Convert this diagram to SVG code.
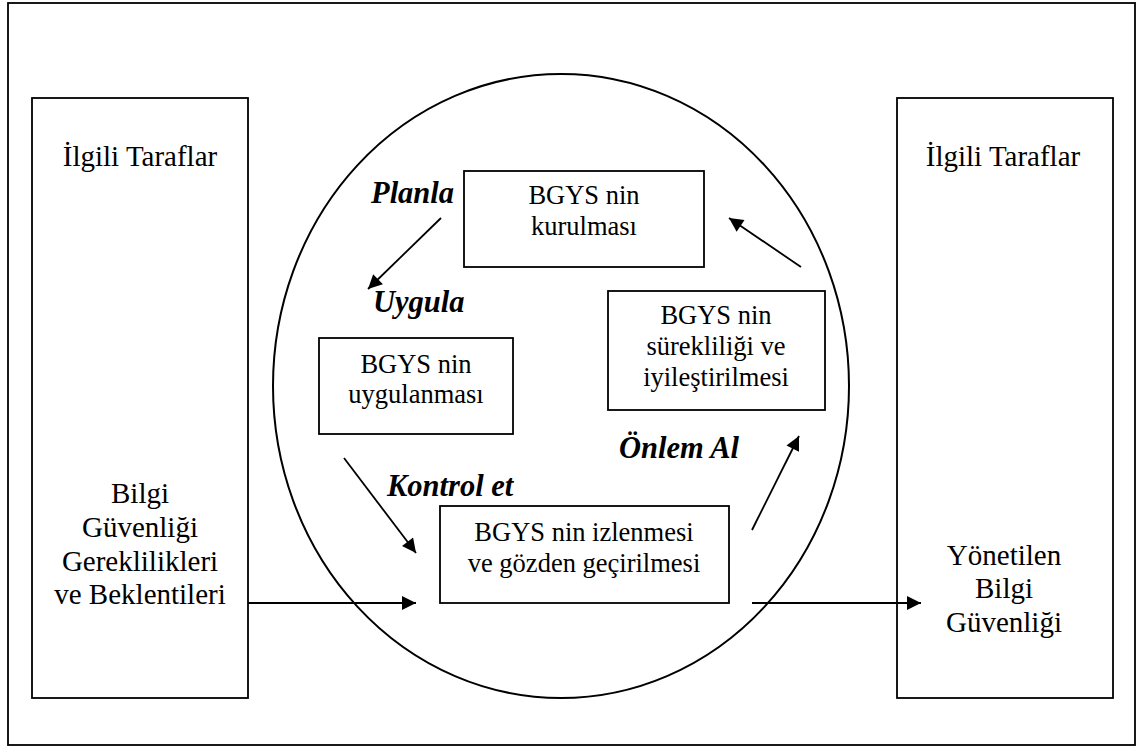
<svg xmlns="http://www.w3.org/2000/svg" width="1137" height="747" viewBox="0 0 1137 747">
  <style>
    .box { fill: #fff; stroke: #000; stroke-width: 1.8; }
    .ring { fill: none; stroke: #000; stroke-width: 2; }
    .txt { font-size: 26.5px; text-anchor: middle; fill: #000; }
    .big { font-size: 29px; }
    .phase { font-size: 30.5px; font-weight: bold; font-style: italic; fill: #000; }
    .conn { stroke: #000; stroke-width: 1.8; fill: none; marker-end: url(#head); }
  </style>
  <defs>
    <marker id="head" viewBox="0 0 10 10" refX="10" refY="5" markerUnits="userSpaceOnUse" markerWidth="16" markerHeight="14" orient="auto">
      <path d="M0,0 L10,5 L0,10 Z" fill="#000"/>
    </marker>
  </defs>

  <rect x="0" y="0" width="1137" height="747" fill="#fff"/>

  <!-- outer frame -->
  <rect id="frame" x="8" y="3" width="1127" height="742" class="box" fill="none"/>

  <g font-family="Liberation Serif">
  <!-- stakeholders: inputs -->
  <g id="left-parties">
    <rect x="32" y="98" width="216" height="600" class="box"/>
    <text class="txt big" x="140" y="166">İlgili Taraflar</text>
    <text class="txt big" x="140" y="503">Bilgi</text>
    <text class="txt big" x="140" y="537">Güvenliği</text>
    <text class="txt big" x="140" y="571">Gereklilikleri</text>
    <text class="txt big" x="140" y="604">ve Beklentileri</text>
  </g>

  <!-- stakeholders: outputs -->
  <g id="right-parties">
    <rect x="897" y="98" width="216" height="600" class="box"/>
    <text class="txt big" x="1003" y="166">İlgili Taraflar</text>
    <text class="txt big" x="1004" y="565">Yönetilen</text>
    <text class="txt big" x="1004" y="598">Bilgi</text>
    <text class="txt big" x="1004" y="632">Güvenliği</text>
  </g>

  <!-- PDCA cycle -->
  <g id="cycle">
    <ellipse cx="561" cy="386" rx="288" ry="312" class="ring"/>
  </g>

  <g id="plan">
    <rect x="464" y="171" width="240" height="96" class="box"/>
    <text class="txt" x="584" y="204">BGYS nin</text>
    <text class="txt" x="584" y="235">kurulması</text>
  </g>

  <g id="do">
    <rect x="319" y="338" width="194" height="96" class="box"/>
    <text class="txt" x="416" y="373">BGYS nin</text>
    <text class="txt" x="416" y="403">uygulanması</text>
  </g>

  <g id="act">
    <rect x="608" y="291" width="217" height="119" class="box"/>
    <text class="txt" x="716" y="324">BGYS nin</text>
    <text class="txt" x="716" y="355">sürekliliği ve</text>
    <text class="txt" x="716" y="386">iyileştirilmesi</text>
  </g>

  <g id="check">
    <rect x="440" y="506" width="289" height="97" class="box"/>
    <text class="txt" x="584" y="541">BGYS nin izlenmesi</text>
    <text class="txt" x="584" y="572">ve gözden geçirilmesi</text>
  </g>

  <!-- phase labels -->
  <g id="labels">
    <text class="phase" x="371" y="203">Planla</text>
    <text class="phase" x="373" y="312">Uygula</text>
    <text class="phase" x="387" y="496">Kontrol et</text>
    <text class="phase" x="619" y="458">Önlem Al</text>
  </g>
  </g>

  <!-- connectors -->
  <g id="connectors">
    <line class="conn" x1="441" y1="218" x2="368" y2="289"/>
    <line class="conn" x1="344" y1="458" x2="416" y2="553"/>
    <line class="conn" x1="752" y1="530" x2="799" y2="436"/>
    <line class="conn" x1="801" y1="267" x2="729" y2="218"/>
    <line class="conn" x1="248" y1="603" x2="416" y2="603"/>
    <line class="conn" x1="752" y1="603" x2="921" y2="603"/>
  </g>
</svg>
